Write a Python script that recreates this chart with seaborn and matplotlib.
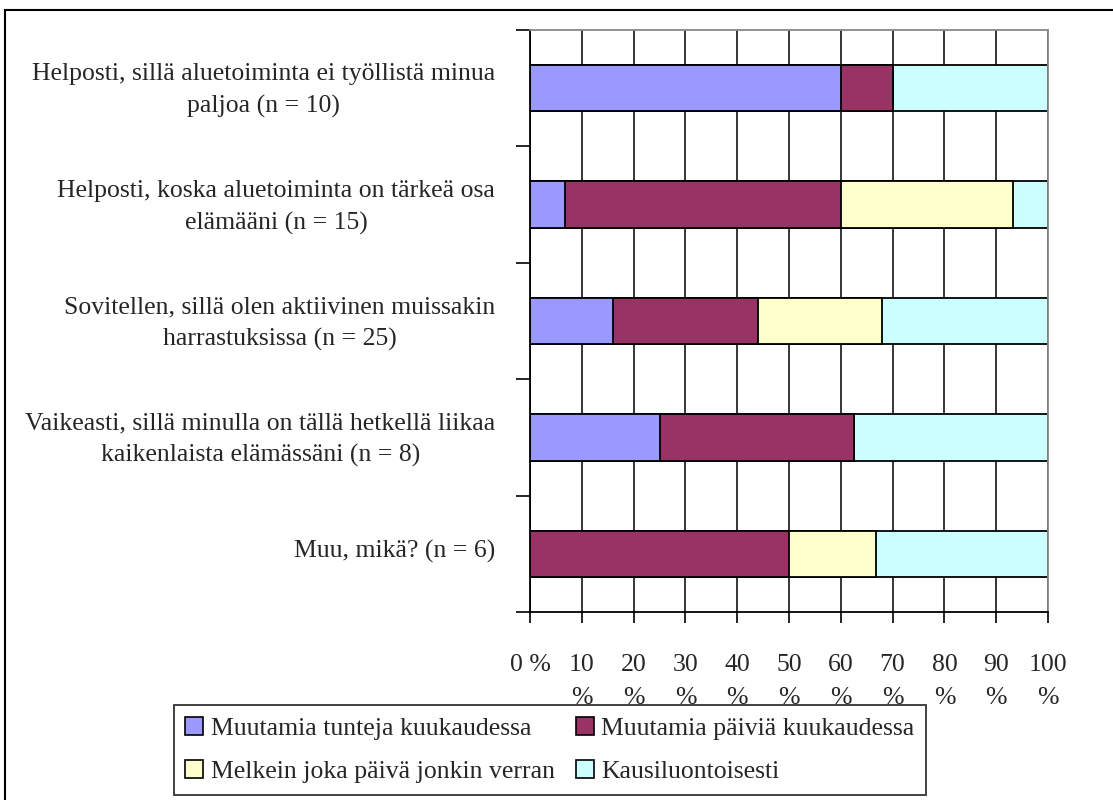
import matplotlib
matplotlib.use("Agg")
import matplotlib.pyplot as plt
from matplotlib.patches import Patch, Rectangle
from matplotlib.transforms import ScaledTranslation
import numpy as np
import pandas as pd
import seaborn as sns

categories = [
    "Helposti, sillä aluetoiminta ei työllistä minua\npaljoa (n = 10)",
    "Helposti, koska aluetoiminta on tärkeä osa\nelämääni (n = 15)",
    "Sovitellen, sillä olen aktiivinen muissakin\nharrastuksissa (n = 25)",
    "Vaikeasti, sillä minulla on tällä hetkellä liikaa\nkaikenlaista elämässäni (n = 8)",
    "Muu, mikä? (n = 6)",
]
series_names = [
    "Muutamia tunteja kuukaudessa",
    "Muutamia päiviä kuukaudessa",
    "Melkein joka päivä jonkin verran",
    "Kausiluontoisesti",
]
tunteja = [60.0, 6.7, 16.0, 25.0, 0.0]
paivia = [10.0, 53.3, 28.0, 37.5, 50.0]
melkein = [0.0, 33.3, 24.0, 0.0, 16.7]
kausi = [30.0, 6.7, 32.0, 37.5, 33.3]
colors = ["#9999FF", "#993366", "#FFFFCC", "#CCFFFF"]
xtick_labels = ["0 %"] + [f"{v}\n%" for v in range(10, 101, 10)]

sns.set_style("white")
plt.rcParams["font.family"] = ["Liberation Serif", "DejaVu Serif"]
FS = 18.5

df = pd.DataFrame({"kysymys": categories, series_names[0]: tunteja,
                   series_names[1]: paivia, series_names[2]: melkein,
                   series_names[3]: kausi})
cum = df[series_names].cumsum(axis=1)

fig = plt.figure(figsize=(11.13, 8), dpi=100)
ax = fig.add_axes([530 / 1113, 1 - 612 / 800, 518 / 1113, 582 / 800])

# stacked bars: draw cumulative totals from the widest down
for name, col in reversed(list(zip(series_names, colors))):
    sns.barplot(x=cum[name], y=df["kysymys"], orient="h", color=col,
                saturation=1, edgecolor="black", linewidth=1.3, width=0.4, ax=ax)

ax.set_xlim(0, 100)
ax.set_ylim(4.5, -0.5)
ax.set_xlabel("")
ax.set_ylabel("")
ax.set_xticks(np.arange(0, 101, 10))
ax.set_xticklabels(xtick_labels, fontsize=FS, linespacing=1.65)
ax.tick_params(axis="x", bottom=True, direction="out", length=8, width=1.2,
               color="black", pad=22)
ax.set_yticks(range(len(categories)))
ax.set_yticklabels(categories, fontsize=FS, multialignment="center", linespacing=1.55)
ax.tick_params(axis="y", which="major", left=True, length=0, pad=25)
ax.set_yticks(np.arange(-0.5, 5, 1), minor=True)
ax.tick_params(axis="y", which="minor", left=True, direction="out", length=10,
               width=1.2, color="black")
shift = ScaledTranslation(0, 5 / 100, fig.dpi_scale_trans)
for lab in ax.get_yticklabels():
    lab.set_transform(lab.get_transform() + shift)

ax.xaxis.grid(True, color="black", linewidth=1.1)
ax.set_axisbelow(True)
for side in ["left", "bottom"]:
    ax.spines[side].set_color("black")
    ax.spines[side].set_linewidth(1.3)
for side in ["top", "right"]:
    ax.spines[side].set_color("#888888")
    ax.spines[side].set_linewidth(1.3)

# legend filled row by row like the original
order = [0, 2, 1, 3]
handles = [Patch(facecolor=colors[i], edgecolor="black", linewidth=1.2) for i in order]
labels = [series_names[i] for i in order]
leg = fig.legend(handles, labels, loc="center", ncol=2,
                 bbox_to_anchor=(550 / 1113, 1 - 750 / 800), fontsize=FS,
                 frameon=True, fancybox=False, edgecolor="black",
                 handlelength=0.7, handleheight=0.7, handletextpad=0.3,
                 columnspacing=0.8, labelspacing=0.8, borderpad=0.45,
                 borderaxespad=0)
leg.get_frame().set_linewidth(1.3)

fig.patches.append(Rectangle((5 / 1113, -0.01), 1.05, 1 - 10 / 800 + 0.01,
                             transform=fig.transFigure, fill=False,
                             edgecolor="black", linewidth=1.5))

fig.savefig("out.png", dpi=100)
